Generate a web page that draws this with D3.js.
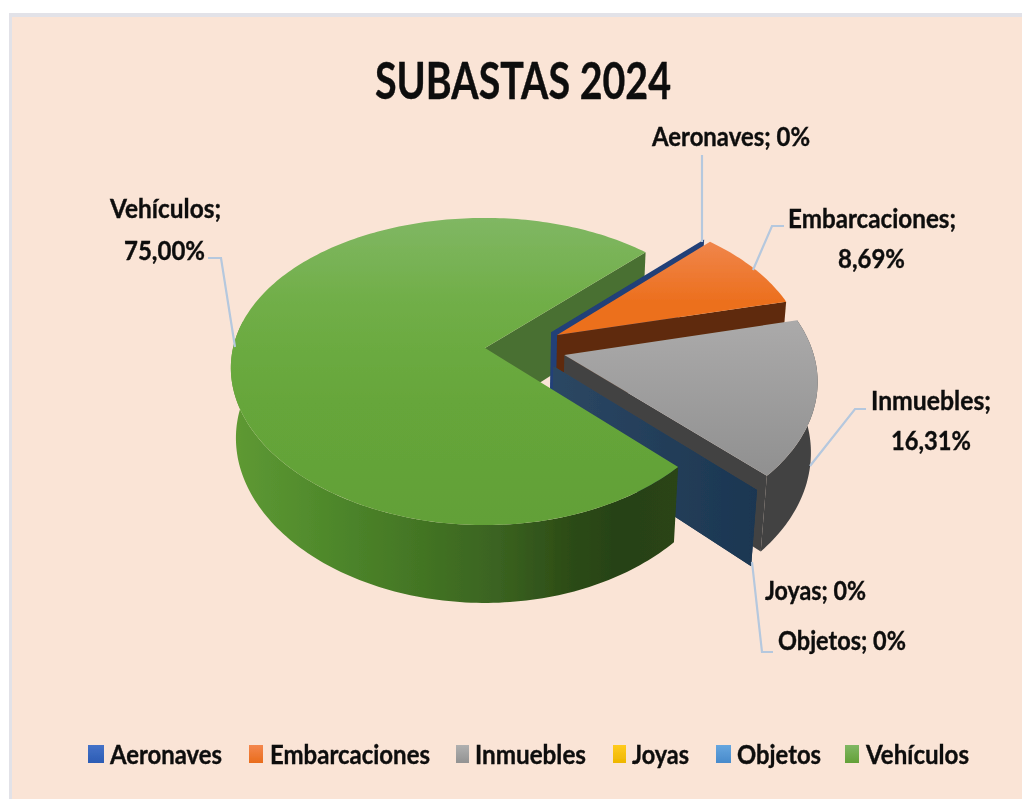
<!DOCTYPE html>
<html><head><meta charset="utf-8">
<script src="https://cdn.jsdelivr.net/npm/d3@7"></script>
<style>html,body{margin:0;padding:0;background:#fff}svg{display:block}text{font-family:Lato,"Open Sans",sans-serif;font-weight:700;fill:#0b0b0b;stroke:#0b0b0b;stroke-width:.35px}</style>
</head><body><svg id="c" width="1022" height="799"></svg>
<script>
// ---- data ----
const categories = ["Aeronaves","Embarcaciones","Inmuebles","Joyas","Objetos","Vehículos"];
const shares = [0, 8.69, 16.31, 0, 0, 75];
const shareLabels = ["0%","8,69%","16,31%","0%","0%","75,00%"];
const chartTitle = "SUBASTAS 2024";
// ---- style ----
const topStops = [["#3a68c4","#2c5bb0"],["#f0854a","#ec701f"],["#abaaaa","#919191"],["#ffc91a","#eeb800"],["#62a2dc","#4a8ccb"],["#80b763","#62a038"]];
const legendStops = [["#4472c8","#2c5cb4"],["#f4874e","#e96c1b"],["#b0b0b0","#929292"],["#ffcb1e","#eeb600"],["#66a6df","#478acb"],["#80b763","#63a038"]];
const explode = [[.27,.107],[.294,.087],[.318,-.047],[.272,-.12],[.272,-.12],[0,0]];
// ---- layout of text ----
const labelBoxes = [
 [[652,810,146,categories[0]+"; "+shareLabels[0]]],
 [[788,956,228,categories[1]+";"],[838,905,268,shareLabels[1]]],
 [[871,991,410,categories[2]+";"],[891,971,450,shareLabels[2]]],
 [[765,866,600,categories[3]+"; "+shareLabels[3]]],
 [[778,906,650,categories[4]+"; "+shareLabels[4]]],
 [[110,221,218,categories[5]+";"],[124,205,260,shareLabels[5]]]
];
const leaders = [[[702,155],[702,242]],[[784,226],[772,226],[753,270]],[[866,409],[855,409],[810,466]],null,[[773,652],[762,652],[752,562]],[[208,258],[221,258],[235,347]]];
const legendSwatchX = [88,249,456,613,716,845];
const legendSwatchW = [16,14,13,13,15,14];
const legendTextX = [[110,222],[270,430],[475,586],[632,689],[737,821],[866,969]];

const svg = d3.select("#c");
const defs = svg.append("defs");
defs.append("filter").attr("id","soft").append("feGaussianBlur").attr("stdDeviation",0.55);
defs.append("filter").attr("id","softer").append("feGaussianBlur").attr("stdDeviation",0.45);

function grad(id, x1,y1,x2,y2, stops){
  const g = defs.append("linearGradient").attr("id",id).attr("gradientUnits","userSpaceOnUse")
    .attr("x1",x1).attr("y1",y1).attr("x2",x2).attr("y2",y2);
  stops.forEach(s=>g.append("stop").attr("offset",s[0]).attr("stop-color",s[1]));
  return `url(#${id})`;
}
// panel
svg.append("rect").attr("x",9).attr("y",13).attr("width",1013).attr("height",786).attr("fill","#e2e2e8");
svg.append("rect").attr("x",12).attr("y",17).attr("width",1010).attr("height",782).attr("fill","#fae4d6");

// projection of the pie (unit disc, Z = 0 top, Z = 1 bottom)
const OX=485, OY=348, RPOS=248, RNEG=252, RS=150, K=.153, KX=.13, M=.02, H=71;
function P(X,Y,Z){
  const w=1+K*Y+M*Z, wx=1+KX*Y+M*Z;
  return [OX+(X>0?RPOS:RNEG)*X/wx, OY+(-RS*Y+H*Z)/w];
}
const rim=(s,a,Z)=>P(explode[s][0]+Math.sin(a), explode[s][1]+Math.cos(a), Z);
const apex=(s,Z)=>P(explode[s][0], explode[s][1], Z);
const line=d3.line();
const arcPts=(s,a0,a1,Z)=>{const n=Math.max(2,Math.ceil(Math.abs(a1-a0)/.02));
  return d3.range(n+1).map(i=>rim(s,a0+(a1-a0)*i/n,Z));};

const arcs=d3.pie().sort(null).value(d=>d).startAngle(Math.PI/4).endAngle(Math.PI/4+2*Math.PI)(shares);
const pie=svg.append("g").attr("filter","url(#softer)");

function radialWall(s,a,fill){
  pie.append("path").attr("d",line([apex(s,0),rim(s,a,0),rim(s,a,1),apex(s,1)])+"Z").attr("fill",fill);
}
function outerWall(s,a0,a1,fill){
  pie.append("path").attr("d",line([...arcPts(s,a0,a1,0),...arcPts(s,a1,a0,1)])+"Z").attr("fill",fill);
}
function topFace(s,a0,a1,fill){
  pie.append("path").attr("d",line([apex(s,0),...arcPts(s,a0,a1,0)])+"Z").attr("fill",fill);
}
const A=arcs.map(d=>[d.startAngle,d.endAngle]);
function topGrad(s,y1,y2){
  return grad("t"+s,0,y1,0,y2,[[0,topStops[s][0]],[1,topStops[s][1]]]);
}
// back to front
radialWall(5,A[5][1],"#4a7032");
radialWall(0,A[0][0],"#203f78");
radialWall(1,A[1][1],"#5f2c0b");
topFace(1,A[1][0],A[1][1],topGrad(1,243,300));
outerWall(2,A[2][0],A[2][1],"#434343");
radialWall(2,A[2][1],"#434343");
topFace(2,A[2][0],A[2][1],topGrad(2,320,470));
const navy=grad("w4",552,0,760,0,[[0,"#2c4763"],[1,"#1b3651"]]);
radialWall(3,A[3][0],navy);
radialWall(4,A[4][0],navy);
// only the near half of the big slice's rim faces the viewer
outerWall(5,A[5][0],Math.PI*1.56,grad("w5",230,0,680,0,[[0,"#5f9a33"],[.2,"#508a2c"],[.42,"#437524"],[.6,"#3a6220"],[.76,"#2c4b16"],[.86,"#274213"],[1,"#2a4413"]]));
topFace(5,A[5][0],A[5][1],grad("t5",0,218,0,525,[[0,"#80b763"],[.28,"#70ae47"],[.6,"#66a63a"],[1,"#62a038"]]));

// leaders
const lg=svg.append("g").attr("filter","url(#softer)");
leaders.forEach(l=>{ if(l) lg.append("path").attr("d",line(l)).attr("fill","none").attr("stroke","#b5c8de").attr("stroke-width",2.2); });

// text
const tg=svg.append("g").attr("filter","url(#soft)");
function fit(str,x0,x1,y,size){
  tg.append("text").attr("x",x0).attr("y",y).attr("font-size",size)
    .attr("textLength",x1-x0).attr("lengthAdjust","spacingAndGlyphs").text(str);
}
fit(chartTitle,375,671,99,51);
labelBoxes.forEach(b=>b.forEach(t=>fit(t[3],t[0],t[1],t[2],27)));
// legend
categories.forEach((c,i)=>{
  const f=grad("l"+i,0,745,0,763,[[0,legendStops[i][0]],[1,legendStops[i][1]]]);
  tg.append("rect").attr("x",legendSwatchX[i]).attr("y",745).attr("width",legendSwatchW[i]).attr("height",18).attr("fill",f);
  fit(c,legendTextX[i][0],legendTextX[i][1],764,27);
});
</script></body></html>
